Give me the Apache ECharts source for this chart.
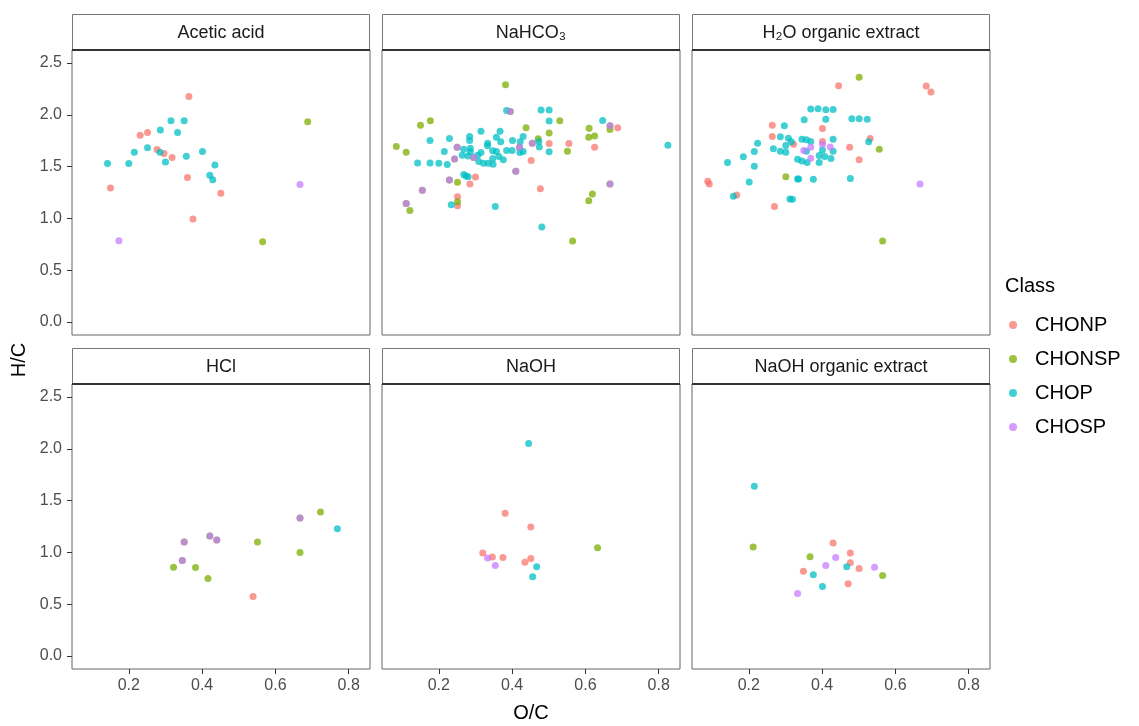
<!DOCTYPE html>
<html><head><meta charset="utf-8">
<script src="https://cdn.jsdelivr.net/npm/echarts@6/dist/echarts.min.js"></script>
<style>html,body{margin:0;padding:0;background:#fff}#c{width:1139px;height:726px}</style>
</head><body><div id="c"></div><script>
const facetNames = ['Acetic acid', 'NaHCO\u2083', 'H\u2082O organic extract', 'HCl', 'NaOH', 'NaOH organic extract'];
const classNames = ['CHONP', 'CHONSP', 'CHOP', 'CHOSP'];
const classColors = ['#F8766D', '#7CAE00', '#00BFC4', '#C77CFF'];
const xTicks = [0.2, 0.4, 0.6, 0.8];
const yTicks = [0, 0.5, 1, 1.5, 2, 2.5];

// Acetic acid
const aceticCHONP = [[0.364,2.177],[0.231,1.803],[0.251,1.829],[0.277,1.665],[0.296,1.626],[0.318,1.587],[0.360,1.394],[0.150,1.294],[0.451,1.242],[0.375,0.994]];
const aceticCHONSP = [[0.688,1.932],[0.565,0.774]];
const aceticCHOP = [[0.315,1.942],[0.351,1.942],[0.286,1.852],[0.333,1.829],[0.251,1.681],[0.215,1.639],[0.285,1.639],[0.401,1.645],[0.357,1.600],[0.300,1.545],[0.142,1.529],[0.200,1.529],[0.435,1.516],[0.421,1.416],[0.429,1.374]];
const aceticCHOSP = [[0.667,1.326],[0.173,0.784]];

// NaHCO3
const nahco3CHONP = [[0.688,1.874],[0.501,1.723],[0.555,1.723],[0.625,1.687],[0.452,1.558],[0.300,1.400],[0.285,1.332],[0.477,1.287],[0.251,1.210],[0.251,1.123]];
const nahco3CHONSP = [[0.382,2.290],[0.150,1.900],[0.177,1.942],[0.084,1.694],[0.111,1.639],[0.438,1.874],[0.530,1.942],[0.501,1.823],[0.471,1.768],[0.610,1.871],[0.609,1.784],[0.625,1.794],[0.667,1.858],[0.551,1.648],[0.251,1.348],[0.251,1.160],[0.619,1.235],[0.609,1.171],[0.121,1.077],[0.565,0.781]];
const nahco3CHOP = [[0.385,2.042],[0.479,2.045],[0.501,2.045],[0.501,1.939],[0.647,1.945],[0.315,1.842],[0.367,1.842],[0.176,1.752],[0.229,1.771],[0.284,1.790],[0.284,1.752],[0.357,1.784],[0.369,1.739],[0.401,1.752],[0.422,1.739],[0.430,1.790],[0.333,1.726],[0.333,1.700],[0.501,1.642],[0.473,1.742],[0.474,1.690],[0.215,1.645],[0.268,1.668],[0.286,1.677],[0.286,1.642],[0.264,1.610],[0.280,1.603],[0.315,1.635],[0.306,1.610],[0.347,1.652],[0.357,1.645],[0.364,1.597],[0.347,1.577],[0.376,1.565],[0.385,1.655],[0.400,1.655],[0.421,1.635],[0.430,1.645],[0.309,1.548],[0.322,1.532],[0.335,1.532],[0.348,1.523],[0.142,1.535],[0.176,1.535],[0.200,1.532],[0.223,1.519],[0.268,1.423],[0.274,1.410],[0.280,1.403],[0.234,1.132],[0.354,1.116],[0.481,0.916],[0.825,1.706]];
const nahco3CHOSP = [[0.395,2.032],[0.667,1.894],[0.250,1.687],[0.243,1.574],[0.295,1.587],[0.420,1.687],[0.455,1.726],[0.410,1.455],[0.229,1.371],[0.155,1.271],[0.111,1.145],[0.667,1.332]];

// H2O organic extract
const h2oCHONP = [[0.445,2.281],[0.684,2.277],[0.697,2.219],[0.264,1.900],[0.401,1.868],[0.264,1.790],[0.322,1.716],[0.401,1.742],[0.531,1.771],[0.475,1.687],[0.501,1.565],[0.088,1.358],[0.092,1.332],[0.167,1.226],[0.270,1.116]];
const h2oCHONSP = [[0.501,2.361],[0.556,1.668],[0.301,1.403],[0.565,0.781]];
const h2oCHOP = [[0.369,2.055],[0.389,2.058],[0.410,2.048],[0.430,2.052],[0.351,1.952],[0.410,1.958],[0.481,1.961],[0.501,1.961],[0.523,1.958],[0.297,1.894],[0.286,1.787],[0.308,1.774],[0.316,1.739],[0.301,1.703],[0.345,1.765],[0.357,1.758],[0.369,1.742],[0.430,1.765],[0.527,1.739],[0.224,1.726],[0.215,1.645],[0.267,1.671],[0.286,1.648],[0.301,1.639],[0.357,1.648],[0.401,1.661],[0.430,1.648],[0.392,1.606],[0.407,1.597],[0.424,1.577],[0.333,1.571],[0.345,1.555],[0.359,1.539],[0.392,1.539],[0.185,1.594],[0.142,1.539],[0.215,1.503],[0.333,1.381],[0.336,1.381],[0.376,1.377],[0.477,1.384],[0.201,1.352],[0.158,1.213],[0.312,1.187],[0.319,1.184]];
const h2oCHOSP = [[0.350,1.655],[0.369,1.687],[0.401,1.716],[0.422,1.690],[0.369,1.581],[0.667,1.332]];

// HCl
const hclCHONP = [[0.539,0.574]];
const hclCHONSP = [[0.322,0.858],[0.382,0.855],[0.416,0.748],[0.551,1.100],[0.667,1.000],[0.723,1.390]];
const hclCHOP = [[0.769,1.229]];
const hclCHOSP = [[0.351,1.100],[0.421,1.158],[0.440,1.119],[0.346,0.923],[0.667,1.332]];

// NaOH
const naohCHONP = [[0.381,1.377],[0.451,1.245],[0.320,0.994],[0.346,0.955],[0.375,0.952],[0.451,0.942],[0.435,0.906]];
const naohCHONSP = [[0.633,1.045]];
const naohCHOP = [[0.445,2.052],[0.467,0.861],[0.456,0.765]];
const naohCHOSP = [[0.333,0.945],[0.354,0.874]];

// NaOH organic extract
const naohOrgCHONP = [[0.430,1.090],[0.477,0.994],[0.477,0.900],[0.501,0.845],[0.349,0.819],[0.471,0.697]];
const naohOrgCHONSP = [[0.212,1.052],[0.367,0.958],[0.565,0.777]];
const naohOrgCHOP = [[0.215,1.639],[0.376,0.784],[0.401,0.671],[0.467,0.861]];
const naohOrgCHOSP = [[0.437,0.952],[0.410,0.874],[0.543,0.858],[0.333,0.603]];

// In these facets the CHOSP dots sit on top of CHONSP formulas with the same H/C and O/C
// (N changes neither ratio), which gives them their greyish tint.
const overlapSP = [false, true, false, true, false, false];

const facetData = [
  [aceticCHONP, aceticCHONSP, aceticCHOP, aceticCHOSP],
  [nahco3CHONP, nahco3CHONSP, nahco3CHOP, nahco3CHOSP],
  [h2oCHONP, h2oCHONSP, h2oCHOP, h2oCHOSP],
  [hclCHONP, hclCHONSP, hclCHOP, hclCHOSP],
  [naohCHONP, naohCHONSP, naohCHOP, naohCHOSP],
  [naohOrgCHONP, naohOrgCHONSP, naohOrgCHOP, naohOrgCHOSP]
];

const FONT = '"Liberation Sans", Arial, Helvetica, sans-serif';
const colLeft = [72, 382, 692];
const panelW = 298;
const rowTop = [50, 384];
const panelH = 285;
const stripH = 36;

const grids = [], xAxes = [], yAxes = [], series = [], graphics = [];
facetNames.forEach((name, i) => {
  const r = Math.floor(i / 3), c = i % 3;
  const left = colLeft[c], top = rowTop[r];
  grids.push({left: left, top: top, width: panelW, height: panelH, show: true,
    borderColor: '#666', borderWidth: 1, backgroundColor: '#fff', containLabel: false});
  const bottomRow = r === 1, leftCol = c === 0;
  xAxes.push({type: 'value', gridIndex: i, min: 0.045, max: 0.858, position: 'bottom',
    axisLine: {show: false, onZero: false}, splitLine: {show: false},
    axisTick: {show: bottomRow, inside: false, customValues: xTicks, length: 5, lineStyle: {color: '#333', width: 1}},
    axisLabel: {show: bottomRow, customValues: xTicks, formatter: v => v.toFixed(1), color: '#4d4d4d', fontSize: 16, fontFamily: FONT, margin: 9}
  });
  yAxes.push({type: 'value', gridIndex: i, min: -0.125, max: 2.625, position: 'left',
    axisLine: {show: false, onZero: false}, splitLine: {show: false},
    axisTick: {show: leftCol, inside: false, customValues: yTicks, length: 5, lineStyle: {color: '#333', width: 1}},
    axisLabel: {show: leftCol, customValues: yTicks, formatter: v => v.toFixed(1), color: '#4d4d4d', fontSize: 16, fontFamily: FONT, margin: 10}
  });
  const d = facetData[i];
  const mk = (k, data) => ({type: 'scatter', name: classNames[k], xAxisIndex: i, yAxisIndex: i,
    data: data, symbol: 'circle', symbolSize: 7, silent: true,
    itemStyle: {color: classColors[k], opacity: 0.75}, emphasis: {disabled: true}});
  series.push(mk(0, d[0]));
  if (overlapSP[i]) series.push(mk(1, d[3]));  // CHONSP formulas hidden beneath CHOSP dots
  series.push(mk(1, d[1]));
  series.push(mk(2, d[2]));
  series.push(mk(3, d[3]));

  const sTop = top - stripH;
  graphics.push({type: 'rect', shape: {x: left + 0.5, y: sTop + 0.5, width: panelW - 1, height: stripH}, style: {fill: '#fff', stroke: '#777', lineWidth: 1}, z: 10, silent: true});
  graphics.push({type: 'line', shape: {x1: left, y1: top, x2: left + panelW, y2: top}, style: {stroke: '#333', lineWidth: 2}, z: 11, silent: true});
  graphics.push({type: 'text', x: left + panelW / 2, y: sTop + stripH / 2 + 1, z: 12, silent: true,
    style: {text: name, fill: '#1a1a1a', fontSize: 18, fontFamily: FONT, align: 'center', verticalAlign: 'middle'}});
});

graphics.push({type: 'text', x: 531, y: 713, silent: true,
  style: {text: 'O/C', fill: '#000', fontSize: 20, fontFamily: FONT, align: 'center', verticalAlign: 'middle'}});
graphics.push({type: 'text', x: 19, y: 360, rotation: Math.PI / 2, silent: true,
  style: {text: 'H/C', fill: '#000', fontSize: 20, fontFamily: FONT, align: 'center', verticalAlign: 'middle'}});
graphics.push({type: 'text', x: 1005, y: 286, silent: true,
  style: {text: 'Class', fill: '#000', fontSize: 20, fontFamily: FONT, align: 'left', verticalAlign: 'middle'}});

const chart = echarts.init(document.getElementById('c'), null, {renderer: 'canvas'});
chart.setOption({
  animation: false,
  backgroundColor: '#fff',
  grid: grids, xAxis: xAxes, yAxis: yAxes, series: series,
  legend: {data: classNames, orient: 'vertical', left: 1004, top: 310, icon: 'circle',
    itemWidth: 34, itemHeight: 8, itemGap: 14, selectedMode: false,
    textStyle: {fontSize: 20, lineHeight: 20, color: '#000', fontFamily: FONT}},
  graphic: graphics
});
</script></body></html>
